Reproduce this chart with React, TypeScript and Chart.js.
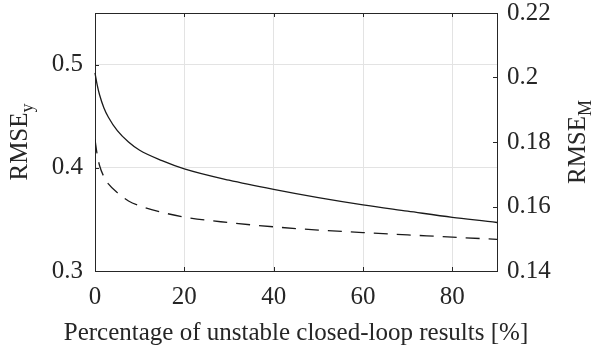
import React, { useEffect, useRef } from "react";
import { Chart, registerables } from "chart.js";

Chart.register(...registerables);

// RMSE of the output (left axis, solid) against the share of unstable closed-loop results
const pctSolid = [0, 0.5, 1, 2, 3, 5, 7.5, 10, 15, 20, 30, 40, 50, 60, 70, 80, 90, 92.5];
const rmseY = [0.492, 0.48, 0.471, 0.458, 0.449, 0.436, 0.425, 0.417, 0.407, 0.399, 0.388, 0.379, 0.371, 0.364, 0.358, 0.352, 0.347, 0.3455];

// RMSE of the model (right axis, dashed)
const pctDashed = [0, 0.5, 1, 2, 3, 5, 7.5, 10, 15, 20, 30, 40, 50, 60, 70, 80, 90];
const rmseM = [0.1808, 0.176, 0.1728, 0.1692, 0.167, 0.1643, 0.1617, 0.1602, 0.1582, 0.1567, 0.155, 0.1537, 0.1527, 0.1519, 0.1512, 0.1505, 0.1498];

const xTicks = [0, 20, 40, 60, 80];
const leftTicks = [0.3, 0.4, 0.5];
const rightTicks = [0.14, 0.16, 0.18, 0.2, 0.22];

const xTitle = "Percentage of unstable closed-loop results [%]";

const FONT = "'Liberation Serif', 'Times New Roman', serif";
const TEXT = "#262626";
const AXIS = "#262626";
const GRID = "#e3e3e3";
const LINE = "#1a1a1a";

function drawRotatedTitle(ctx: CanvasRenderingContext2D, x: number, y: number, main: string, sub: string) {
  ctx.save();
  ctx.translate(x, y);
  ctx.rotate(-Math.PI / 2);
  ctx.font = `25px ${FONT}`;
  const w1 = ctx.measureText(main).width;
  ctx.font = `18px ${FONT}`;
  const w2 = ctx.measureText(sub).width;
  const start = -(w1 + w2) / 2;
  ctx.fillStyle = TEXT;
  ctx.textAlign = "left";
  ctx.textBaseline = "alphabetic";
  ctx.font = `25px ${FONT}`;
  ctx.fillText(main, start, 0);
  ctx.font = `18px ${FONT}`;
  ctx.fillText(sub, start + w1, 6);
  ctx.restore();
}

const framePlugin = {
  id: "frame",
  afterDatasetsDraw(chart: any) {
    const { ctx, chartArea: a, scales } = chart;
    const tick = 4;
    ctx.save();
    ctx.strokeStyle = AXIS;
    ctx.lineWidth = 1;
    ctx.beginPath();
    // top edge of the box
    ctx.moveTo(a.left, a.top + 0.5);
    ctx.lineTo(a.right, a.top + 0.5);
    // inward ticks on the bottom and top edges
    for (const v of xTicks) {
      const px = Math.round(scales.x.getPixelForValue(v)) + 0.5;
      ctx.moveTo(px, a.bottom);
      ctx.lineTo(px, a.bottom - tick);
      ctx.moveTo(px, a.top);
      ctx.lineTo(px, a.top + tick);
    }
    // inward ticks on the left axis
    for (const v of leftTicks) {
      const py = Math.round(scales.yL.getPixelForValue(v)) + 0.5;
      ctx.moveTo(a.left, py);
      ctx.lineTo(a.left + tick, py);
    }
    // inward ticks on the right axis
    for (const v of rightTicks) {
      const py = Math.round(scales.yR.getPixelForValue(v)) + 0.5;
      ctx.moveTo(a.right, py);
      ctx.lineTo(a.right - tick, py);
    }
    ctx.stroke();
    ctx.restore();
  },
  afterDraw(chart: any) {
    const { ctx, chartArea: a } = chart;
    drawRotatedTitle(ctx, 27, (a.top + a.bottom) / 2, "RMSE", "y");
    drawRotatedTitle(ctx, 585, (a.top + a.bottom) / 2, "RMSE", "M");
    ctx.save();
    ctx.font = `25px ${FONT}`;
    ctx.fillStyle = TEXT;
    ctx.textAlign = "center";
    ctx.textBaseline = "alphabetic";
    ctx.fillText(xTitle, (a.left + a.right) / 2, 340);
    ctx.restore();
  },
};

const fmt = (v: number) => String(Math.round(v * 100) / 100);

export default function App() {
  const canvasRef = useRef<HTMLCanvasElement | null>(null);

  useEffect(() => {
    const canvas = canvasRef.current;
    if (!canvas) return;
    const xFont = { family: FONT, size: 25, lineHeight: 1 };
    // a tight line height keeps the top tick label from pushing the plot area down
    const yFont = { family: FONT, size: 25, lineHeight: 0.08 };
    const chart = new Chart(canvas, {
      type: "line",
      data: {
        datasets: [
          {
            label: "RMSE_y",
            data: pctSolid.map((x, i) => ({ x, y: rmseY[i] })),
            yAxisID: "yL",
            borderColor: LINE,
            borderWidth: 1.3,
            pointRadius: 0,
            cubicInterpolationMode: "monotone",
            clip: false,
          },
          {
            label: "RMSE_M",
            data: pctDashed.map((x, i) => ({ x, y: rmseM[i] })),
            yAxisID: "yR",
            borderColor: LINE,
            borderWidth: 1.3,
            borderDash: [14, 9],
            pointRadius: 0,
            cubicInterpolationMode: "monotone",
          },
        ],
      },
      options: {
        responsive: false,
        animation: false,
        devicePixelRatio: 1,
        layout: { padding: { top: 0, left: 0, right: 0, bottom: 0 } },
        plugins: { legend: { display: false }, tooltip: { enabled: false } },
        scales: {
          x: {
            type: "linear",
            min: 0,
            max: 90,
            afterBuildTicks: (s: any) => {
              s.ticks = xTicks.map((value) => ({ value }));
            },
            afterFit: (s: any) => {
              s.height = 76;
            },
            grid: {
              drawTicks: false,
              color: (c: any) => (c.tick && c.tick.value === 0 ? "rgba(0,0,0,0)" : GRID),
            },
            border: { display: true, color: AXIS, width: 1 },
            ticks: { padding: 14, color: TEXT, font: xFont, maxRotation: 0, callback: (v: any) => fmt(Number(v)) },
          },
          yL: {
            type: "linear",
            position: "left",
            min: 0.3,
            max: 0.55,
            afterBuildTicks: (s: any) => {
              s.ticks = leftTicks.map((value) => ({ value }));
            },
            afterFit: (s: any) => {
              s.width = 95;
            },
            grid: {
              drawTicks: false,
              color: (c: any) => (c.tick && c.tick.value === 0.3 ? "rgba(0,0,0,0)" : GRID),
            },
            border: { display: true, color: AXIS, width: 1 },
            ticks: { padding: 12, color: TEXT, font: yFont, callback: (v: any) => fmt(Number(v)) },
          },
          yR: {
            type: "linear",
            position: "right",
            min: 0.14,
            max: 0.22,
            afterBuildTicks: (s: any) => {
              s.ticks = rightTicks.map((value) => ({ value }));
            },
            afterFit: (s: any) => {
              s.width = 101;
            },
            grid: { display: false, drawTicks: false },
            border: { display: true, color: AXIS, width: 1 },
            ticks: { padding: 10, color: TEXT, font: yFont, callback: (v: any) => fmt(Number(v)) },
          },
        },
      },
      plugins: [framePlugin],
    } as any);
    return () => chart.destroy();
  }, []);

  return (
    <div style={{ position: "fixed", left: 0, top: 0, width: 598, height: 347, background: "#ffffff" }}>
      <canvas ref={canvasRef} width={598} height={347} style={{ display: "block", width: 598, height: 347 }} />
    </div>
  );
}
